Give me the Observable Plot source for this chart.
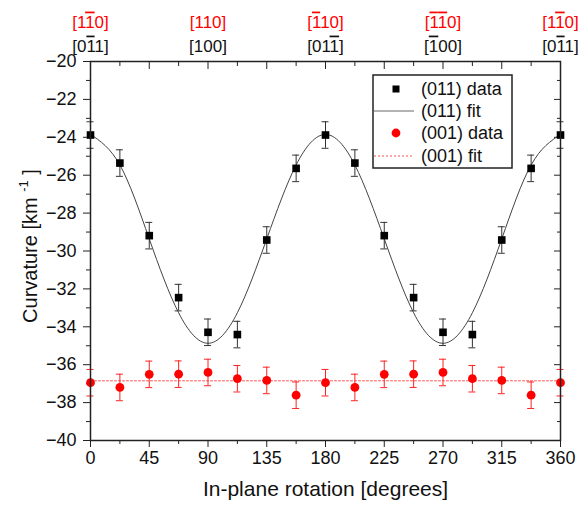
<!DOCTYPE html>
<html>
<head>
<meta charset="utf-8">
<script src="https://cdn.jsdelivr.net/npm/d3@7"></script>
<script src="https://cdn.jsdelivr.net/npm/@observablehq/plot@0.6"></script>
<style>
  html, body { margin: 0; padding: 0; background: #fff; }
  svg { display: block; }
</style>
</head>
<body>
<div id="chart"></div>
<script>
// ---- Data ----
const angles = [0, 22.5, 45, 67.5, 90, 112.5, 135, 157.5, 180, 202.5, 225, 247.5, 270, 292.5, 315, 337.5, 360];
const data011 = [-23.88, -25.36, -29.19, -32.46, -34.29, -34.41, -29.42, -25.64, -23.88, -25.36, -29.19, -32.46, -34.29, -34.41, -29.42, -25.64, -23.88];
const err011 = [0.7, 0.7, 0.7, 0.7, 0.7, 0.7, 0.7, 0.7, 0.7, 0.7, 0.7, 0.7, 0.7, 0.7, 0.7, 0.7, 0.7];
const data001 = [-36.95, -37.20, -36.51, -36.50, -36.41, -36.74, -36.83, -37.61, -36.95, -37.20, -36.51, -36.50, -36.41, -36.74, -36.83, -37.61, -36.95];
const err001 = [0.7, 0.7, 0.7, 0.7, 0.7, 0.7, 0.7, 0.7, 0.7, 0.7, 0.7, 0.7, 0.7, 0.7, 0.7, 0.7, 0.7];
// fit curves
const fitAngles = [0, 22.5, 45, 67.5, 90, 112.5, 135, 157.5, 180, 202.5, 225, 247.5, 270, 292.5, 315, 337.5, 360];
const fit011 = [-23.85, -25.46, -29.36, -33.26, -34.87, -33.26, -29.36, -25.46, -23.85, -25.46, -29.36, -33.26, -34.87, -33.26, -29.36, -25.46, -23.85];
const fit001 = [-36.85, -36.85, -36.85, -36.85, -36.85, -36.85, -36.85, -36.85, -36.85, -36.85, -36.85, -36.85, -36.85, -36.85, -36.85, -36.85, -36.85];
// tick values & top labels (~ marks an overlined digit)
const xMajor = [0, 45, 90, 135, 180, 225, 270, 315, 360];
const xMinor = [22.5, 67.5, 112.5, 157.5, 202.5, 247.5, 292.5, 337.5];
const yMajor = [-40, -38, -36, -34, -32, -30, -28, -26, -24, -22, -20];
const yMinor = [-39, -37, -35, -33, -31, -29, -27, -25, -23, -21];
const topX = [0, 90, 180, 270, 360];
const topRed = ["[1~10]", "[110]", "[~110]", "[~1~10]", "[1~10]"];
const topBlack = ["[0~11]", "[100]", "[01~1]", "[~100]", "[0~11]"];
const legendLabels = ["(011) data", "(011) fit", "(001) data", "(001) fit"];

const pts011 = angles.map((a, i) => ({x: a, y: data011[i], e: err011[i]}));
const pts001 = angles.map((a, i) => ({x: a, y: data001[i], e: err001[i]}));
const fitA = fitAngles.map((a, i) => ({x: a, y: fit011[i]}));
const fitB = fitAngles.map((a, i) => ({x: a, y: fit001[i]}));

const FONT = "'Liberation Sans', Arial, Helvetica, sans-serif";
const noText = () => "";

const errMarks = (pts, color) => [
  Plot.ruleX(pts, {x: "x", y1: d => d.y - d.e, y2: d => d.y + d.e, stroke: color, strokeWidth: 1}),
  Plot.ruleY(pts, {y: d => d.y + d.e, x1: "x", x2: "x", insetLeft: -3.5, insetRight: -3.5, stroke: color, strokeWidth: 1}),
  Plot.ruleY(pts, {y: d => d.y - d.e, x1: "x", x2: "x", insetLeft: -3.5, insetRight: -3.5, stroke: color, strokeWidth: 1})
];

const chart = Plot.plot({
  width: 581,
  height: 510,
  marginLeft: 90,
  marginRight: 21,
  marginTop: 61,
  marginBottom: 70,
  style: {fontFamily: FONT, fontSize: "18px", color: "#111", background: "#fff"},
  x: {domain: [0, 360], label: null},
  y: {domain: [-40, -20], label: null},
  marks: [
    // axes
    Plot.axisX({ticks: xMajor, tickSize: 7, tickPadding: 4, fontSize: 18, label: null, stroke: "#222"}),
    Plot.axisX({ticks: xMinor, tickSize: 4, tickFormat: noText, label: null, stroke: "#222"}),
    Plot.axisX({anchor: "top", ticks: xMajor, tickSize: -7, tickFormat: noText, label: null, stroke: "#222"}),
    Plot.axisX({anchor: "top", ticks: xMinor, tickSize: -4, tickFormat: noText, label: null, stroke: "#222"}),
    Plot.axisY({ticks: yMajor, tickSize: 7, tickPadding: 7, fontSize: 18, label: null, stroke: "#222"}),
    Plot.axisY({ticks: yMinor, tickSize: 4, tickFormat: noText, label: null, stroke: "#222"}),
    Plot.axisY({anchor: "right", ticks: yMajor, tickSize: -7, tickFormat: noText, label: null, stroke: "#222"}),
    Plot.axisY({anchor: "right", ticks: yMinor, tickSize: -4, tickFormat: noText, label: null, stroke: "#222"}),
    // fits
    Plot.line(fitA, {x: "x", y: "y", curve: "natural", stroke: "#444", strokeWidth: 1}),
    Plot.line(fitB, {x: "x", y: "y", stroke: "#ff5555", strokeWidth: 1, strokeDasharray: "2,2"}),
    // error bars
    ...errMarks(pts011, "#333"),
    ...errMarks(pts001, "#f22"),
    // points
    Plot.dot(pts011, {x: "x", y: "y", symbol: "square", r: 4.3, fill: "#000", stroke: "none"}),
    Plot.dot(pts001, {x: "x", y: "y", symbol: "circle", r: 4.4, fill: "#ff0000", stroke: "none"}),
    // frame
    Plot.frame({stroke: "#222", strokeWidth: 1.5}),
    // top labels
    Plot.text(topX, {x: d => d, text: (d, i) => topRed[i], frameAnchor: "top", dy: -46, fill: "#ff0000", fontSize: 17}),
    Plot.text(topX, {x: d => d, text: (d, i) => topBlack[i], frameAnchor: "top", dy: -22, fill: "#111", fontSize: 17}),
    // x label
    Plot.text(["In-plane rotation [degrees]"], {frameAnchor: "bottom", dy: 55, text: d => d, fontSize: 21, fill: "#111"})
  ]
});

const svg = d3.select(chart);

// overlined digits
svg.selectAll("text").each(function() {
  const t = this.textContent;
  if (!t.includes("~")) return;
  const sel = d3.select(this);
  sel.text(null);
  let i = 0;
  let plain = "";
  const flush = () => { if (plain) { sel.append("tspan").text(plain); plain = ""; } };
  while (i < t.length) {
    if (t[i] === "~") {
      flush();
      sel.append("tspan").attr("text-decoration", "overline").style("text-decoration", "overline").text(t[i + 1]);
      i += 2;
    } else {
      plain += t[i];
      i += 1;
    }
  }
  flush();
});

// y label with superscript
const yl = svg.append("text")
  .attr("transform", "translate(37,246) rotate(-90)")
  .attr("text-anchor", "middle")
  .attr("font-family", FONT)
  .attr("font-size", 20)
  .attr("fill", "#111");
yl.append("tspan").text("Curvature [km ");
yl.append("tspan").attr("font-size", 13).attr("dy", -9).text("-1");
yl.append("tspan").attr("dy", 9).text(" ]");

// legend
const lg = svg.append("g").attr("font-family", FONT).attr("font-size", 18).attr("fill", "#111").attr("text-anchor", "start");
lg.append("rect").attr("x", 373).attr("y", 75).attr("width", 139).attr("height", 93)
  .attr("fill", "#fff").attr("stroke", "#222").attr("stroke-width", 1.5);
const rowsY = [89, 111, 133, 156];
lg.append("rect").attr("x", 392.5).attr("y", rowsY[0] - 3.5).attr("width", 7).attr("height", 7).attr("fill", "#000");
lg.append("line").attr("x1", 374).attr("x2", 414).attr("y1", rowsY[1]).attr("y2", rowsY[1]).attr("stroke", "#666").attr("stroke-width", 1);
lg.append("circle").attr("cx", 396).attr("cy", rowsY[2]).attr("r", 4.4).attr("fill", "#ff0000");
lg.append("line").attr("x1", 374).attr("x2", 414).attr("y1", rowsY[3]).attr("y2", rowsY[3]).attr("stroke", "#ff5555").attr("stroke-width", 1).attr("stroke-dasharray", "2,2");
legendLabels.forEach((l, i) => {
  lg.append("text").attr("x", 421).attr("y", rowsY[i]).attr("dy", "0.35em").attr("text-anchor", "start").text(l);
});

document.getElementById("chart").appendChild(chart);
</script>
</body>
</html>
